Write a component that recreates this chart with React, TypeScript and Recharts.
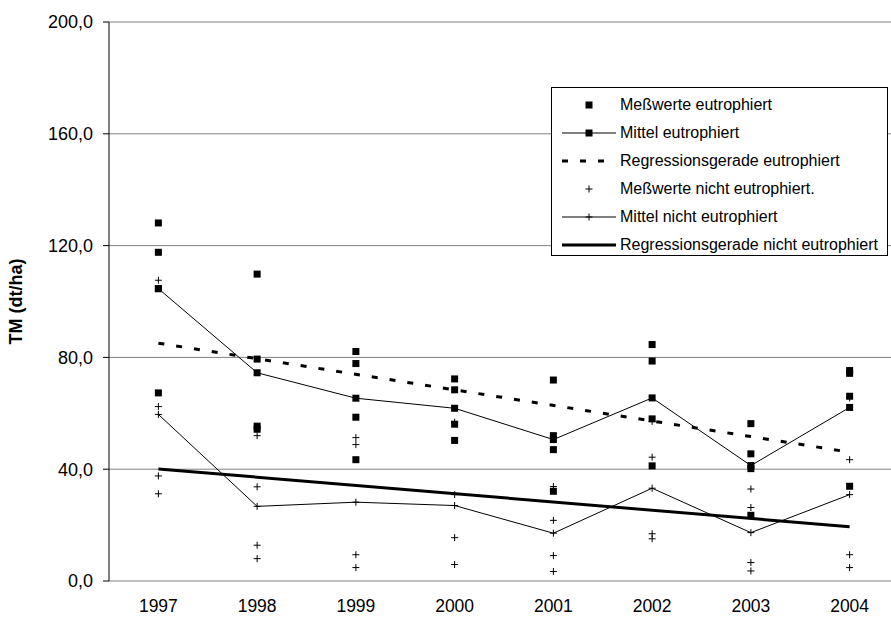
import {
  ComposedChart,
  Line,
  Scatter,
  XAxis,
  YAxis,
  CartesianGrid,
  Legend,
} from "recharts";

const years = [1997, 1998, 1999, 2000, 2001, 2002, 2003, 2004];

// Einzelwerte je Jahr
const messEutro = [
  [128.1, 117.6, 104.6, 67.3],
  [109.8, 79.4, 55.4, 54.3],
  [82.1, 77.8, 58.6, 43.4],
  [72.3, 68.4, 56.1, 50.3],
  [71.9, 52.0, 47.0, 32.1],
  [84.6, 78.7, 58.0, 41.2],
  [56.3, 45.5, 40.2, 23.5],
  [75.3, 74.3, 66.1, 33.9],
];
const messNicht = [
  [107.6, 62.4, 37.6, 31.2],
  [52.0, 33.7, 12.8, 8.0],
  [51.3, 48.8, 9.4, 4.8],
  [56.8, 30.9, 15.5, 5.9],
  [33.8, 21.7, 9.1, 3.4],
  [57.1, 44.3, 16.9, 15.1],
  [32.9, 26.3, 6.6, 3.6],
  [65.5, 43.4, 9.4, 4.8],
];

const mittelEutro = [104.6, 74.5, 65.4, 61.8, 50.6, 65.5, 41.3, 62.1];
const mittelNicht = [59.6, 26.7, 28.2, 27.0, 17.1, 33.2, 17.3, 30.9];

// Regressionsgeraden: Wert 1997 und 2004
const regEutro = [85.1, 46.1];
const regNicht = [40.1, 19.4];

const yTicks = [0, 40, 80, 120, 160, 200];

const yearEdges = [...years.map((y) => y - 0.5), years[years.length - 1] + 0.5];

const toPoints = (rows: number[][]) =>
  rows.flatMap((vals, i) => vals.map((v) => ({ year: years[i], v })));
const toLine = (vals: number[]) => vals.map((v, i) => ({ year: years[i], v }));
const toReg = (ends: number[]) => [
  { year: years[0], v: ends[0] },
  { year: years[years.length - 1], v: ends[1] },
];

const Square = (p: any) => {
  if (p.cx == null || p.cy == null) return null;
  return <rect x={p.cx - 3.5} y={p.cy - 3.5} width={7} height={7} fill="#000" />;
};

const Plus = (p: any) => {
  if (p.cx == null || p.cy == null) return null;
  const { cx, cy } = p;
  return (
    <path
      d={`M${cx - 3.5},${cy}H${cx + 3.5}M${cx},${cy - 3.5}V${cy + 3.5}`}
      stroke="#000"
      strokeWidth={1}
      fill="none"
    />
  );
};

const legendItems = [
  { name: "Meßwerte eutrophiert", icon: "sq" },
  { name: "Mittel eutrophiert", icon: "sqline" },
  { name: "Regressionsgerade eutrophiert", icon: "dash" },
  { name: "Meßwerte nicht eutrophiert.", icon: "plus" },
  { name: "Mittel nicht eutrophiert", icon: "plusline" },
  { name: "Regressionsgerade nicht eutrophiert", icon: "thick" },
];

function LegendIcon({ icon }: { icon: string }) {
  const c = { cx: 29, cy: 10 };
  return (
    <svg width={60} height={20} style={{ display: "block", flexShrink: 0 }}>
      {(icon === "sqline" || icon === "plusline") && (
        <line x1={2} y1={10} x2={56} y2={10} stroke="#000" strokeWidth={1} />
      )}
      {icon === "dash" && (
        <line x1={2} y1={10} x2={56} y2={10} stroke="#000" strokeWidth={3} strokeDasharray="6 12" />
      )}
      {icon === "thick" && (
        <line x1={2} y1={10} x2={56} y2={10} stroke="#000" strokeWidth={3} />
      )}
      {(icon === "sq" || icon === "sqline") && <Square {...c} />}
      {(icon === "plus" || icon === "plusline") && <Plus {...c} />}
    </svg>
  );
}

function LegendBox() {
  return (
    <div
      style={{
        boxSizing: "border-box",
        width: 337,
        height: 169,
        border: "1px solid #000",
        background: "#fff",
        paddingTop: 3,
        paddingLeft: 8,
        overflow: "hidden",
      }}
    >
      {legendItems.map((it) => (
        <div
          key={it.name}
          style={{ display: "flex", alignItems: "center", height: 28, fontSize: 16, color: "#000" }}
        >
          <LegendIcon icon={it.icon} />
          <span style={{ whiteSpace: "nowrap" }}>{it.name}</span>
        </div>
      ))}
    </div>
  );
}

const fmt = (v: number) => v.toFixed(1).replace(".", ",");

export default function App() {
  return (
    <div
      style={{
        position: "absolute",
        left: 0,
        top: 0,
        width: 891,
        height: 619,
        overflow: "hidden",
        background: "#fff",
        fontFamily: "'Liberation Sans', Arial, sans-serif",
      }}
    >
      <ComposedChart width={899} height={619} margin={{ top: 22, right: 0, bottom: 0, left: 0 }}>
        <CartesianGrid vertical={false} stroke="#808080" xAxisId="marks" />
        <XAxis
          xAxisId="marks"
          dataKey="year"
          type="number"
          domain={[yearEdges[0], yearEdges[yearEdges.length - 1]]}
          ticks={yearEdges}
          interval={0}
          allowDataOverflow
          height={0}
          tickSize={6}
          tickFormatter={() => ""}
          stroke="#808080"
          axisLine={{ stroke: "#808080", strokeWidth: 2 }}
          tickLine={{ stroke: "#808080", strokeWidth: 1.5 }}
        />
        <XAxis
          xAxisId="labels"
          dataKey="year"
          type="number"
          domain={[yearEdges[0], yearEdges[yearEdges.length - 1]]}
          ticks={years}
          interval={0}
          allowDataOverflow
          height={38}
          axisLine={false}
          tickLine={false}
          tickSize={0}
          tickMargin={19}
          tick={{ fill: "#000", fontSize: 17.5 }}
        />
        <YAxis
          dataKey="v"
          type="number"
          domain={[0, 200]}
          ticks={yTicks}
          interval={0}
          width={109}
          tickSize={6}
          tickMargin={10}
          tickFormatter={fmt}
          tick={{ fill: "#000", fontSize: 18 }}
          axisLine={{ stroke: "#000" }}
          tickLine={{ stroke: "#000" }}
          label={{
            value: "TM (dt/ha)",
            angle: -90,
            position: "insideLeft",
            offset: 16,
            style: { textAnchor: "middle", fontWeight: "bold", fontSize: 18, fill: "#000" },
          }}
        />
        <Legend
          layout="vertical"
          align="center"
          verticalAlign="middle"
          wrapperStyle={{ left: 551, top: 87, width: 337, height: 169 }}
          content={() => <LegendBox />}
        />
        <Scatter
          name={legendItems[0].name}
          xAxisId="labels"
          data={toPoints(messEutro)}
          dataKey="v"
          fill="#000"
          shape={(p: any) => <Square {...p} />}
          isAnimationActive={false}
        />
        <Line
          name={legendItems[1].name}
          xAxisId="labels"
          data={toLine(mittelEutro)}
          dataKey="v"
          type="linear"
          stroke="#000"
          strokeWidth={1}
          dot={(p: any) => <Square key={`me${p.index}`} {...p} />}
          activeDot={false}
          isAnimationActive={false}
        />
        <Line
          name={legendItems[2].name}
          xAxisId="marks"
          data={toReg(regEutro)}
          dataKey="v"
          type="linear"
          stroke="#000"
          strokeWidth={3}
          strokeDasharray="6 12"
          dot={false}
          activeDot={false}
          isAnimationActive={false}
        />
        <Scatter
          name={legendItems[3].name}
          xAxisId="labels"
          data={toPoints(messNicht)}
          dataKey="v"
          fill="#000"
          shape={(p: any) => <Plus {...p} />}
          isAnimationActive={false}
        />
        <Line
          name={legendItems[4].name}
          xAxisId="labels"
          data={toLine(mittelNicht)}
          dataKey="v"
          type="linear"
          stroke="#000"
          strokeWidth={1}
          dot={(p: any) => <Plus key={`mn${p.index}`} {...p} />}
          activeDot={false}
          isAnimationActive={false}
        />
        <Line
          name={legendItems[5].name}
          xAxisId="marks"
          data={toReg(regNicht)}
          dataKey="v"
          type="linear"
          stroke="#000"
          strokeWidth={3}
          dot={false}
          activeDot={false}
          isAnimationActive={false}
        />
      </ComposedChart>
    </div>
  );
}
